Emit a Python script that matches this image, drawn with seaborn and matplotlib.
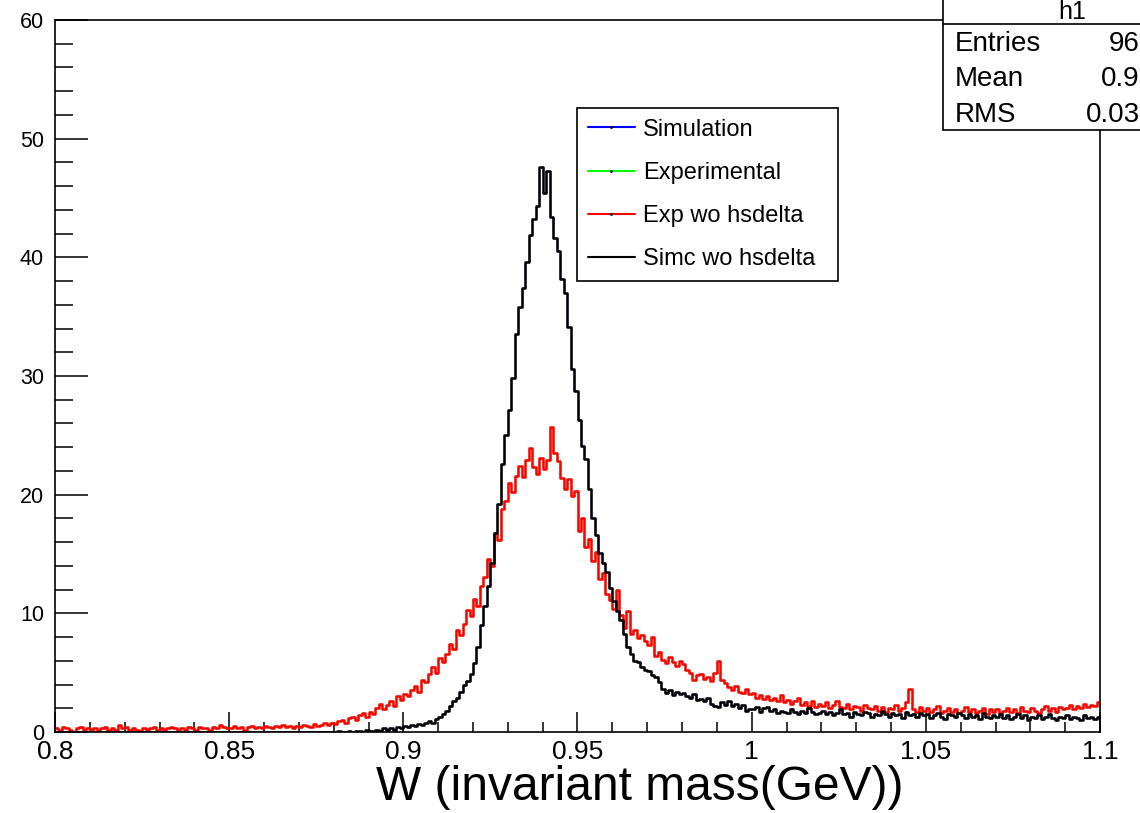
import numpy as np
import pandas as pd
import matplotlib
matplotlib.use("Agg")
import matplotlib.pyplot as plt
import seaborn as sns
from matplotlib.lines import Line2D
from matplotlib.patches import Rectangle
from matplotlib.ticker import MultipleLocator, FuncFormatter

# ---------------- data (0.001 GeV bins, 0.8 .. 1.1) ----------------
x_min, x_max, n_bins = 0.8, 1.1, 300

simc_wo_hsdelta = [
    0, 0, 0, 0, 0, 0, 0, 0, 0, 0,
    0, 0, 0, 0, 0, 0, 0, 0, 0, 0,
    0, 0, 0, 0, 0, 0, 0, 0, 0, 0,
    0, 0, 0, 0, 0, 0, 0, 0, 0, 0,
    0, 0, 0, 0, 0, 0, 0, 0, 0, 0,
    0, 0, 0, 0, 0, 0, 0, 0, 0, 0,
    0, 0, 0, 0, 0, 0, 0, 0, 0, 0,
    0, 0, 0, 0, 0, 0, 0, 0, 0, 0,
    0, 0.1, 0, 0, 0.1, 0, 0.1, 0.1, 0, 0.2,
    0.1, 0.1, 0.2, 0.1, 0.3, 0.2, 0.3, 0.2, 0.4, 0.3,
    0.5, 0.4, 0.6, 0.5, 0.7, 0.6, 0.8, 0.9, 0.8, 1.1,
    1.3, 1.5, 1.8, 2.2, 2.6, 2.9, 3.4, 4.0, 4.3, 4.9,
    5.8, 7.2, 9.0, 10.6, 12.3, 14.2, 16.8, 19.2, 22.6, 25.0,
    27.1, 29.8, 33.5, 35.8, 37.4, 39.6, 41.9, 43.2, 44.3, 47.6,
    45.4, 47.3, 43.4, 41.6, 40.5, 38.2, 37.0, 34.1, 30.6, 28.7,
    26.3, 24.1, 23.0, 20.5, 18.0, 16.6, 15.1, 14.2, 13.5, 12.1,
    11.0, 10.2, 9.4, 8.3, 7.2, 6.6, 6.0, 5.9, 5.5, 5.2,
    5.1, 4.8, 4.6, 4.2, 3.6, 3.3, 3.5, 3.1, 3.4, 3.2,
    3.3, 3.0, 2.9, 3.2, 2.7, 2.8, 2.6, 2.9, 2.4, 2.2,
    2.1, 2.5, 2.3, 2.6, 2.2, 2.4, 2.0, 2.3, 1.8, 1.9,
    1.9, 2.1, 1.7, 2.0, 2.1, 1.8, 1.9, 1.6, 1.8, 1.7,
    1.6, 1.9, 1.7, 1.5, 1.8, 1.6, 2.0, 1.7, 1.5, 1.6,
    1.8, 1.5, 1.7, 1.4, 1.6, 1.9, 1.5, 1.6, 1.3, 1.7,
    1.5, 1.4, 1.7, 1.6, 1.3, 1.5, 1.4, 1.8, 1.5, 1.3,
    1.6, 1.4, 1.5, 1.2, 1.7, 1.4, 1.5, 1.3, 1.6, 1.4,
    1.5, 1.2, 1.4, 1.6, 1.3, 1.1, 1.5, 1.4, 1.3, 1.6,
    1.4, 1.2, 1.5, 1.3, 1.4, 1.1, 1.6, 1.3, 1.2, 1.4,
    1.3, 1.5, 1.2, 1.4, 1.1, 1.3, 1.5, 1.2, 1.4, 1.0,
    1.3, 1.2, 1.4, 1.1, 1.3, 1.5, 1.2, 1.0, 1.3, 1.2,
    1.4, 1.1, 1.3, 1.2, 1.0, 1.4, 1.2, 1.3, 1.1, 1.3,
]

exp_wo_hsdelta = [
    0.3, 0.2, 0.4, 0.3, 0.2, 0.0, 0.3, 0.4, 0.2, 0.3,
    0.2, 0.3, 0.1, 0.3, 0.4, 0.2, 0.3, 0.2, 0.6, 0.3,
    0.4, 0.2, 0.3, 0.2, 0.1, 0.3, 0.2, 0.3, 0.4, 0.2,
    0.3, 0.2, 0.3, 0.4, 0.3, 0.2, 0.3, 0.2, 0.4, 0.3,
    0.2, 0.4, 0.3, 0.3, 0.2, 0.4, 0.3, 0.6, 0.4, 0.3,
    0.3, 0.5, 0.3, 0.4, 0.2, 0.4, 0.5, 0.3, 0.4, 0.3,
    0.5, 0.4, 0.3, 0.5, 0.4, 0.6, 0.4, 0.5, 0.3, 0.5,
    0.4, 0.6, 0.5, 0.4, 0.7, 0.5, 0.6, 0.8, 0.6, 0.8,
    0.7, 0.9, 1.0, 0.8, 1.2, 1.3, 1.0, 1.4, 1.6, 1.3,
    1.7, 1.5, 2.0, 2.4, 1.9, 2.3, 2.6, 2.2, 3.0, 2.7,
    3.2, 3.0, 3.5, 3.9, 3.4, 4.4, 4.2, 4.9, 5.5, 5.0,
    6.2, 5.9, 6.6, 7.4, 7.0, 8.6, 8.2, 9.1, 10.3, 9.8,
    11.2, 10.6, 12.3, 13.1, 14.6, 14.0, 16.8, 16.2, 18.8, 19.5,
    21.0, 20.2, 21.6, 22.4, 21.5, 22.9, 23.9, 22.3, 21.7, 23.1,
    22.2, 22.9, 25.7, 23.5, 22.8, 21.4, 20.5, 21.3, 19.9, 20.3,
    16.9, 18.0, 15.6, 16.3, 14.4, 15.2, 12.9, 13.4, 11.6, 11.1,
    10.4, 12.0, 9.9, 8.8, 10.2, 8.3, 8.6, 7.9, 8.2, 7.7,
    7.3, 8.0, 6.4, 6.7, 6.1, 5.8, 6.3, 5.9, 5.6, 6.0,
    5.7, 5.2, 5.0, 4.4, 4.8, 4.9, 4.5, 4.6, 4.3, 5.0,
    6.0, 4.4, 4.1, 3.8, 3.5, 3.9, 3.4, 3.3, 3.6, 3.2,
    3.3, 2.9, 3.1, 2.8, 3.0, 2.7, 2.9, 2.6, 3.1, 2.5,
    2.7, 2.4, 2.6, 2.9, 2.3, 2.5, 2.2, 2.6, 2.1, 2.4,
    2.2, 2.5, 2.0, 2.3, 2.6, 2.1, 2.0, 2.4, 1.9, 2.2,
    2.1, 1.8, 2.3, 2.0, 1.9, 2.2, 1.8, 2.1, 1.7, 2.0,
    1.9, 2.3, 1.8, 2.0, 2.5, 3.6, 1.9, 1.7, 2.1, 1.8,
    2.0, 1.7, 1.9, 2.2, 1.6, 1.8, 2.0, 1.7, 1.9, 1.6,
    1.8, 2.1, 1.7, 1.9, 1.6, 1.8, 2.0, 1.5, 1.9, 1.7,
    1.9, 1.6, 1.8, 2.0, 1.7, 1.9, 1.6, 2.1, 1.8, 1.7,
    2.0, 1.8, 1.6, 1.9, 2.2, 1.8, 2.0, 1.7, 2.1, 1.9,
    2.0, 2.3, 1.9, 2.2, 2.0, 2.4, 2.1, 2.3, 2.2, 2.5,
]

# Simulation / Experimental are drawn underneath and are hidden by the "wo hsdelta" curves
simulation = simc_wo_hsdelta
experimental = exp_wo_hsdelta

series_labels = ["Simulation", "Experimental", "Exp wo hsdelta", "Simc wo hsdelta"]
series_values = [simulation, experimental, exp_wo_hsdelta, simc_wo_hsdelta]
series_colors = ["#0000ff", "#00ff00", "#ff0000", "#000000"]
series_widths = [1.0, 1.0, 1.8, 1.8]

stats_title = "h1"
stats_names = ["Entries", "Mean", "RMS"]
stats_values = ["96", "0.9", "0.03"]

x_label = "W (invariant mass(GeV))"

# ---------------- plotting ----------------
sns.set_theme(style="white")
plt.rcParams["font.family"] = ["Liberation Sans", "DejaVu Sans"]
plt.rcParams["text.color"] = "black"
plt.rcParams["axes.labelcolor"] = "black"
plt.rcParams["xtick.color"] = "black"
plt.rcParams["ytick.color"] = "black"

W, H = 1140, 813
fig = plt.figure(figsize=(W / 100, H / 100), dpi=100)
ax = fig.add_axes([55 / W, (H - 732) / H, 1045 / W, 712 / H])

edges = np.linspace(x_min, x_max, n_bins + 1)
centers = (edges[:-1] + edges[1:]) / 2
df = pd.DataFrame({
    "W": np.tile(centers, len(series_labels)),
    "count": np.concatenate([np.asarray(v, dtype=float) for v in series_values]),
    "series": np.repeat(series_labels, n_bins),
})

for lab, col, lw in zip(series_labels, series_colors, series_widths):
    sns.histplot(data=df[df["series"] == lab], x="W", weights="count",
                 bins=n_bins, binrange=(x_min, x_max),
                 element="step", fill=False, color=col, linewidth=lw, ax=ax)

ax.set_xlim(x_min, x_max)
ax.set_ylim(0, 60)
ax.set_ylabel("")
ax.set_xlabel(x_label, fontsize=34.5, color="black")
ax.xaxis.set_label_coords(0.56, -0.046)

ax.xaxis.set_major_locator(MultipleLocator(0.05))
ax.xaxis.set_minor_locator(MultipleLocator(0.01))
ax.yaxis.set_major_locator(MultipleLocator(10))
ax.yaxis.set_minor_locator(MultipleLocator(2))
ax.xaxis.set_major_formatter(FuncFormatter(lambda v, p: f"{v:g}"))
ax.yaxis.set_major_formatter(FuncFormatter(lambda v, p: f"{v:g}"))

ax.tick_params(which="both", direction="in", top=False, right=False,
               bottom=True, left=True, colors="black", labelcolor="black")
ax.tick_params(axis="y", which="major", length=24, width=1.1, labelsize=15.5, pad=8)
ax.tick_params(axis="y", which="minor", length=13, width=1.1)
ax.tick_params(axis="x", which="major", length=14.4, width=1.1, labelsize=19, pad=6)
ax.tick_params(axis="x", which="minor", length=7.2, width=1.1)
for s in ax.spines.values():
    s.set_visible(True)
    s.set_color("black")
    s.set_linewidth(1.2)

# legend
handles = []
for lab, col in zip(series_labels, series_colors):
    if lab == "Simc wo hsdelta":
        handles.append(Line2D([], [], color=col, lw=1.5))
    else:
        handles.append(Line2D([], [], color=col, lw=1.5, marker=".", markersize=2,
                              markerfacecolor="black", markeredgecolor="black"))
leg_x0 = (577 - 55) / 1045
leg_top = (732 - 108) / 712
leg_w = (838 - 577) / 1045
leg = ax.legend(handles, series_labels, loc="upper left", mode="expand",
                bbox_to_anchor=(leg_x0, 0.0, leg_w, leg_top),
                borderaxespad=0, frameon=True, fancybox=False, shadow=False,
                edgecolor="black", facecolor="white", framealpha=1,
                fontsize=17, handlelength=2.0, handletextpad=0.35,
                labelspacing=0.9, borderpad=0.45)
leg.get_frame().set_linewidth(1.2)

# statistics box (top right, partly outside the canvas)
fig.add_artist(Rectangle((943 / W, 1 - 130 / H), 300 / W, 140 / H,
                         transform=fig.transFigure, facecolor="white",
                         edgecolor="black", linewidth=1.2, zorder=10))
fig.add_artist(Line2D([943 / W, 1.0], [1 - 24 / H, 1 - 24 / H],
                      transform=fig.transFigure, color="black", lw=1.2, zorder=11))
fig.text(1072 / W, 1 - 12 / H, stats_title, ha="center", va="center",
         fontsize=18, zorder=12)
for i, (nm, val) in enumerate(zip(stats_names, stats_values)):
    yc = 1 - (44 + 35.5 * i) / H
    fig.text(955 / W, yc, nm, ha="left", va="center", fontsize=20, zorder=12)
    fig.text(1.0, yc, val, ha="right", va="center", fontsize=20, zorder=12)

fig.savefig("out.png", dpi=100)
